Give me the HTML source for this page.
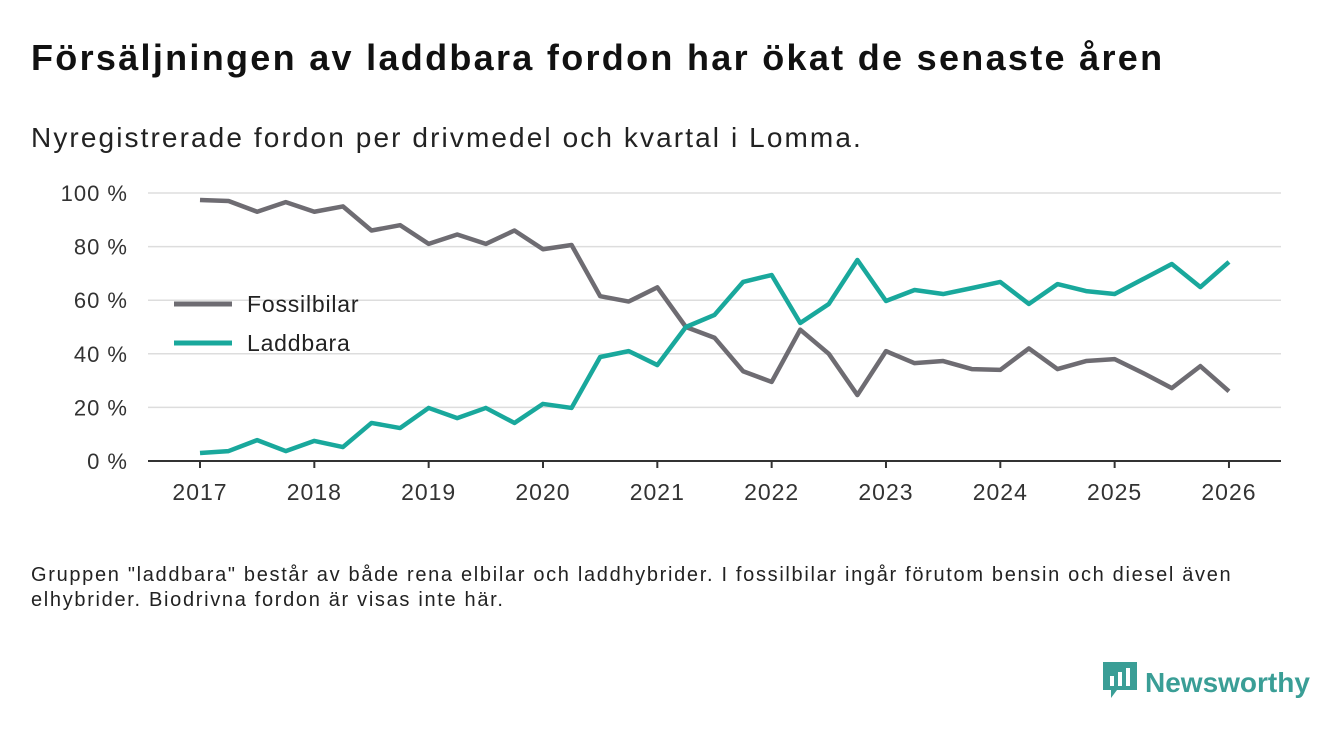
<!DOCTYPE html>
<html><head><meta charset="utf-8"><style>
body{margin:0;width:1340px;height:733px;background:#fff;font-family:"Liberation Sans",sans-serif;overflow:hidden;position:relative}
.t{position:absolute;left:31px;top:37px;font-size:36px;font-weight:bold;color:#111;letter-spacing:2.3px;white-space:nowrap}
.s{position:absolute;left:31px;top:122px;font-size:28px;color:#222;letter-spacing:2.1px;white-space:nowrap}
.n{position:absolute;left:31px;top:563px;font-size:20px;color:#222;line-height:25px;letter-spacing:1.68px;white-space:nowrap}
.logo{position:absolute;left:1103px;top:662px;font-size:28px;font-weight:bold;color:#3a9e96}
</style></head><body>
<div class="t">Försäljningen av laddbara fordon har ökat de senaste åren</div>
<div class="s">Nyregistrerade fordon per drivmedel och kvartal i Lomma.</div>
<svg id="c" width="1340" height="733" style="position:absolute;left:0;top:0"></svg>
<div class="n">Gruppen "laddbara" består av både rena elbilar och laddhybrider. I fossilbilar ingår förutom bensin och diesel även<br>elhybrider. Biodrivna fordon är visas inte här.</div>
<div class="logo"><svg width="34" height="36" style="vertical-align:-6px;margin-right:8px"><path d="M0 0h34v28h-20l-6 8v-8h-8z" fill="#3a9e96"/><rect x="7" y="14" width="4" height="10" fill="#fff"/><rect x="15" y="10" width="4" height="14" fill="#fff"/><rect x="23" y="6" width="4" height="18" fill="#fff"/></svg>Newsworthy</div>
<script>
const yearTicks=[2017,2018,2019,2020,2021,2022,2023,2024,2025,2026];
const yTicks=[0,20,40,60,80,100];
const fossil=[97.4,97,93,96.6,93,95,86,88,81,84.5,81,86,79,80.6,61.5,59.5,64.8,50,46,33.5,29.5,49,40,24.6,41,36.5,37.3,34.3,34,42,34.3,37.3,38,32.8,27.2,35.4,26];
const laddbara=[3,3.7,7.8,3.7,7.5,5.2,14.2,12.3,19.8,16,19.8,14.2,21.3,19.8,38.8,41,35.8,50,54.5,66.8,69.4,51.5,58.6,75,59.7,63.8,62.3,64.5,66.8,58.6,66,63.4,62.3,67.9,73.5,64.9,74.3];
const svg=document.getElementById('c');const NS='http://www.w3.org/2000/svg';
const X=t=>200+(t-2017)*114.33, Y=v=>461-v*2.68;
function mk(tag,a){const e=document.createElementNS(NS,tag);for(const k in a)e.setAttribute(k,a[k]);svg.appendChild(e);return e;}
yTicks.forEach(v=>{
 if(v>0){const g=mk('line',{x1:148,x2:1281,y1:Y(v),y2:Y(v),stroke:'#ddd','stroke-width':1.5});
 
 }
 const t=mk('text',{x:128,y:Y(v)+8,'text-anchor':'end','font-size':22,'letter-spacing':1,fill:'#333','font-family':'Liberation Sans'});t.textContent=v+' %';
 
 
});
const ax=mk('line',{x1:148,x2:1281,y1:461,y2:461,stroke:'#333','stroke-width':2});


yearTicks.forEach(y=>{
 mk('line',{x1:X(y),x2:X(y),y1:461,y2:468,stroke:'#333','stroke-width':2});
 const t=mk('text',{x:X(y),y:500,'text-anchor':'middle','font-size':23,'letter-spacing':1,fill:'#333','font-family':'Liberation Sans'});t.textContent=y;
 
 
});
function line(d,c,n){const p=mk('polyline',{points:d.map((v,i)=>X(2017+i/4)+','+Y(v)).join(' '),fill:'none',stroke:c,'stroke-width':4.5,'stroke-linejoin':'round'});
 
 }
line(fossil,'#6e6c72','fossilbilar-line');line(laddbara,'#19a89c','laddbara-line');
[['Fossilbilar','#6e6c72',304],['Laddbara','#19a89c',343]].forEach(([l,c,y])=>{
 const g=mk('line',{x1:174,x2:232,y1:y,y2:y,stroke:c,'stroke-width':5});
 
 
 const t=mk('text',{x:247,y:y+8,'font-size':23,'letter-spacing':0.8,fill:'#222','font-family':'Liberation Sans'});t.textContent=l;
 
 
});
</script>
</body></html>
